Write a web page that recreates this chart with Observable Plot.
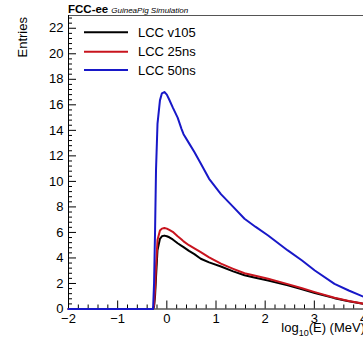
<!DOCTYPE html>
<html>
<head>
<meta charset="utf-8">
<script src="https://cdn.jsdelivr.net/npm/d3@7"></script>
<script src="https://cdn.jsdelivr.net/npm/@observablehq/plot@0.6"></script>
<style>
  html, body { margin: 0; padding: 0; background: white; }
  #chart { width: 363px; height: 344px; overflow: hidden; }
</style>
</head>
<body>
<div id="chart"></div>
<script>
const logE = [-2, -0.28, -0.26, -0.24, -0.22, -0.19, -0.14, -0.1, -0.05, 0, 0.05, 0.12, 0.22, 0.3, 0.34, 0.45, 0.56, 0.69, 0.86, 1.1, 1.35, 1.58, 1.8, 2.06, 2.46, 2.75, 3.01, 3.41, 3.7, 4.02];
const lccV105 = [0, 0, 0.2, 1.0, 2.5, 4.6, 5.5, 5.7, 5.75, 5.7, 5.62, 5.45, 5.15, 4.95, 4.85, 4.55, 4.3, 3.94, 3.65, 3.33, 2.95, 2.65, 2.45, 2.24, 1.85, 1.55, 1.25, 0.85, 0.6, 0.4];
const lcc25ns = [0, 0, 0.3, 1.5, 3.3, 5.4, 6.15, 6.3, 6.35, 6.3, 6.2, 6.05, 5.7, 5.45, 5.3, 5.0, 4.75, 4.45, 4.05, 3.55, 3.15, 2.8, 2.6, 2.37, 1.95, 1.62, 1.32, 0.88, 0.62, 0.4];
const lcc50ns = [0, 0, 2, 6, 10.9, 14.5, 16.35, 16.9, 17.0, 16.8, 16.4, 15.8, 15.0, 14.1, 13.7, 13.0, 12.3, 11.4, 10.2, 9.0, 8.0, 7.07, 6.45, 5.76, 4.59, 3.8, 3.02, 1.97, 1.45, 0.93];

const seriesNames = ["LCC v105", "LCC 25ns", "LCC 50ns"];
const seriesColors = ["#000000", "#c8141e", "#1818c8"];
const seriesValues = [lccV105, lcc25ns, lcc50ns];

const xTicks = [-2, -1, 0, 1, 2, 3, 4];
const yTicks = [0, 2, 4, 6, 8, 10, 12, 14, 16, 18, 20, 22];
const xMinor = d3.range(-2, 4.01, 0.2).filter(v => Math.abs(v - Math.round(v)) > 1e-6);
const yMinor = d3.range(0, 23, 0.4).filter(v => Math.abs(v/2 - Math.round(v/2)) > 1e-6);

const rows = [];
seriesValues.forEach((arr, si) => arr.forEach((v, i) => rows.push({x: logE[i], y: v, s: si})));

const font = "'Liberation Sans', Arial, Helvetica, sans-serif";
const xMin = -2, xMax = 4, yMin = 0, yMax = 23;
const pxPerX = (363 - 68) / (xMax - xMin);
const pxPerY = (344 - 15 - 35.5) / (yMax - yMin);
const fmt = d3.format("d");

const chart = Plot.plot({
  width: 363, height: 344,
  marginLeft: 68, marginRight: 0, marginTop: 15, marginBottom: 35.5,
  style: {fontFamily: font, fontSize: "13px", background: "white", overflow: "visible"},
  x: {domain: [xMin, xMax]},
  y: {domain: [yMin, yMax]},
  marks: [
    Plot.axisX({ticks: xTicks, tickFormat: fmt, tickSize: 0, tickPadding: 5, fontSize: 13, label: null}),
    Plot.axisY({ticks: yTicks, tickFormat: fmt, tickSize: 0, tickPadding: 5, fontSize: 13, label: null}),
    Plot.ruleX(xTicks, {y1: 0, y2: 8 / pxPerY, stroke: "#000", strokeWidth: 1}),
    Plot.ruleX(xMinor, {y1: 0, y2: 4 / pxPerY, stroke: "#000", strokeWidth: 1}),
    Plot.ruleY(yTicks, {x1: xMin, x2: xMin + 8 / pxPerX, stroke: "#000", strokeWidth: 1}),
    Plot.ruleY(yMinor, {x1: xMin, x2: xMin + 4 / pxPerX, stroke: "#000", strokeWidth: 1}),
    Plot.ruleY([yMax], {stroke: "#555", strokeWidth: 1}),
    Plot.ruleX([xMin], {stroke: "#000", strokeWidth: 1}),
    Plot.ruleY([yMin], {stroke: "#000", strokeWidth: 1}),
    ...seriesValues.map((_, si) => Plot.line(rows.filter(r => r.s === si), {x: "x", y: "y", stroke: seriesColors[si], strokeWidth: 2}))
  ]
});

const svg = d3.select(chart);
// Title
const t = svg.append("text").attr("x", 68).attr("y", 12.5).attr("text-anchor", "start").attr("font-family", font).attr("fill", "#000");
t.append("tspan").attr("font-size", 11.5).attr("font-weight", "bold").text("FCC-ee");
t.append("tspan").attr("font-size", 8).attr("font-style", "italic").attr("dx", 3).text("GuineaPig Simulation");
// Y label
svg.append("text").attr("transform", "translate(27,17) rotate(-90)").attr("text-anchor", "end")
  .attr("font-family", font).attr("font-size", 13).attr("fill", "#000").text("Entries");
// X label
const xl = svg.append("text").attr("x", 365).attr("y", 332).attr("text-anchor", "end")
  .attr("font-family", font).attr("font-size", 13).attr("fill", "#000");
xl.append("tspan").text("log");
xl.append("tspan").attr("font-size", 9).attr("dy", 4).text("10");
xl.append("tspan").attr("dy", -4).text("(E) (MeV)");
// Legend
const legY = [32.3, 51.7, 70];
seriesNames.forEach((n, i) => {
  svg.append("line").attr("x1", 84).attr("x2", 128).attr("y1", legY[i]).attr("y2", legY[i])
    .attr("stroke", seriesColors[i]).attr("stroke-width", 2);
  svg.append("text").attr("x", 138).attr("y", legY[i] + 4.6).attr("text-anchor", "start").attr("font-family", font)
    .attr("font-size", 13).attr("fill", "#000").text(n);
});

document.getElementById("chart").appendChild(chart);
</script>
</body>
</html>
